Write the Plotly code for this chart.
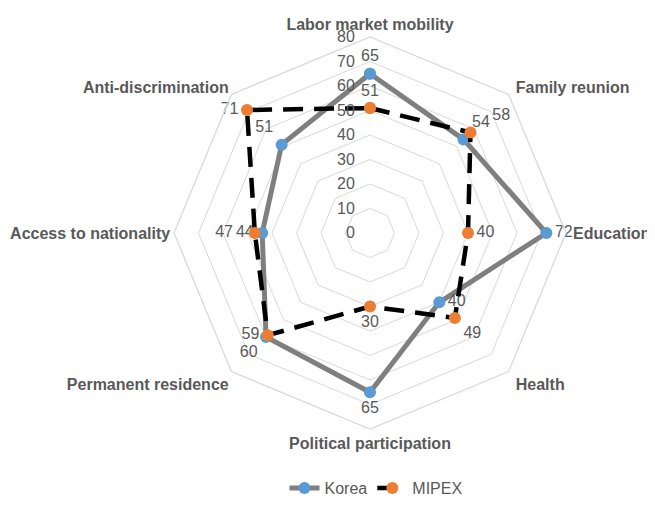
import plotly.graph_objects as go

categories = ["Labor market mobility", "Family reunion", "Education", "Health",
              "Political participation", "Permanent residence",
              "Access to nationality", "Anti-discrimination"]
korea = [65, 54, 72, 40, 65, 60, 44, 51]
mipex = [51, 58, 40, 49, 30, 59, 47, 71]
radial_ticks = [0, 10, 20, 30, 40, 50, 60, 70, 80]

NB = "\u00a0"
THIN = "\u2009"
korea_text = [str(v) for v in korea]
mipex_text = [str(v) for v in mipex]
# push a few MIPEX labels away so they don't collide with Korea's
mipex_text[1] = NB * 3 + mipex_text[1]
mipex_text[6] = mipex_text[6] + NB * 3

# small gap for the right-hand category labels
cat_prefix = {"Family reunion": NB, "Education": THIN, "Health": NB}
cat_ticktext = [cat_prefix.get(c, "") + c for c in categories]

korea_pos = ["top center", "top right", "middle right", "middle right",
             "bottom center", "bottom left", "middle left", "top left"]
mipex_pos = ["top center", "top right", "middle right", "bottom right",
             "bottom center", "middle left", "middle left", "middle left"]

def closed(v):
    return list(v) + [v[0]]

FONT = "Liberation Sans"
GREY = "#595959"

fig = go.Figure()
fig.add_trace(go.Scatterpolar(
    r=closed(korea), theta=closed(categories), name="Korea",
    mode="lines+markers+text",
    text=korea_text + [""],
    textposition=korea_pos + ["top center"],
    textfont=dict(family=FONT, size=16, color=GREY),
    line=dict(color="#7f7f7f", width=5),
    marker=dict(color="#5b9bd5", size=12),
))
fig.add_trace(go.Scatterpolar(
    r=closed(mipex), theta=closed(categories), name="MIPEX",
    mode="lines+markers+text",
    text=mipex_text + [""],
    textposition=mipex_pos + ["top center"],
    textfont=dict(family=FONT, size=16, color=GREY),
    line=dict(color="black", width=4.5, dash="20px,11px"),
    marker=dict(color="#ed7d31", size=12),
))

W, H = 655, 517
cx, cy, R = 362, 225, 196
fig.update_layout(
    width=W, height=H,
    margin=dict(l=0, r=0, t=0, b=0),
    paper_bgcolor="white",
    plot_bgcolor="white",
    font=dict(family=FONT, color=GREY),
    polar=dict(
        domain=dict(x=[(cx - R) / W, (cx + R) / W], y=[1 - (cy + R) / H, 1 - (cy - R) / H]),
        gridshape="linear",
        bgcolor="white",
        radialaxis=dict(
            range=[0, 80], tickvals=radial_ticks, ticktext=[str(t) for t in radial_ticks],
            angle=90, tickangle=90, side="counterclockwise",
            showline=False, ticks="outside", ticklen=9, tickcolor="rgba(0,0,0,0)",
            gridcolor="#d9d9d9", gridwidth=1.3,
            tickfont=dict(family=FONT, size=16, color=GREY),
        ),
        angularaxis=dict(
            rotation=90, direction="clockwise", showgrid=False,
            showline=True, linecolor="#d9d9d9", linewidth=1.3, ticks="",
            tickmode="array", tickvals=categories, ticktext=cat_ticktext,
            tickfont=dict(family=FONT, size=16, color=GREY, weight="bold"),
        ),
    ),
    legend=dict(orientation="h", x=368 / W, xanchor="center", y=1 - 480 / H, yanchor="middle",
                font=dict(family=FONT, size=16, color=GREY)),
)
fig.write_html("out.html")
